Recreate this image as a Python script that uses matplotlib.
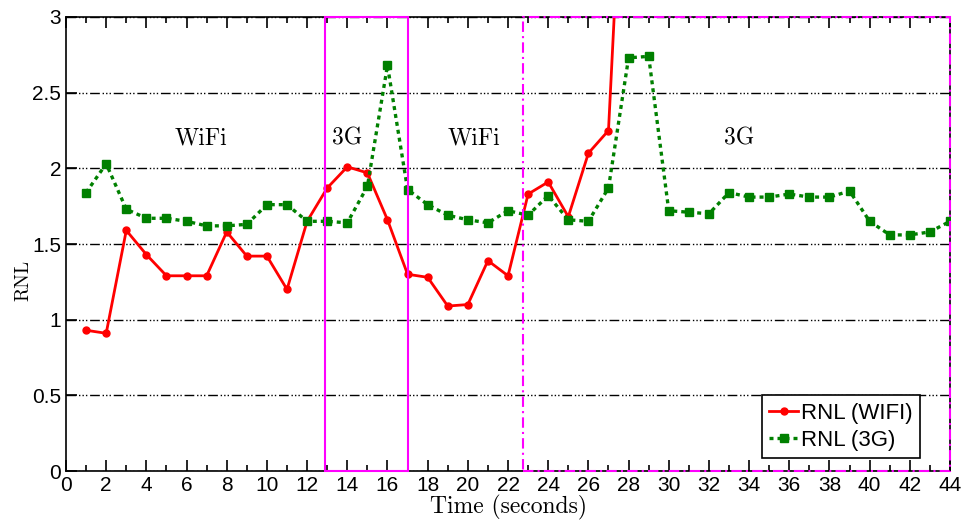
import matplotlib
matplotlib.use("Agg")
import matplotlib.pyplot as plt
from matplotlib.patches import Rectangle
from matplotlib.ticker import MultipleLocator

# data
t_wifi = list(range(1, 29))
rnl_wifi = [0.93, 0.91, 1.59, 1.43, 1.29, 1.29, 1.29, 1.58, 1.42, 1.42,
            1.20, 1.65, 1.87, 2.01, 1.97, 1.66, 1.30, 1.28, 1.09, 1.10,
            1.39, 1.29, 1.83, 1.91, 1.68, 2.10, 2.25, 4.90]
t_3g = list(range(1, 45))
rnl_3g = [1.84, 2.03, 1.73, 1.67, 1.67, 1.65, 1.62, 1.62, 1.63, 1.76,
          1.76, 1.65, 1.65, 1.64, 1.88, 2.68, 1.86, 1.76, 1.69, 1.66,
          1.64, 1.72, 1.69, 1.82, 1.66, 1.65, 1.87, 2.73, 2.74, 1.72,
          1.71, 1.70, 1.84, 1.81, 1.81, 1.83, 1.81, 1.81, 1.85, 1.65,
          1.56, 1.56, 1.58, 1.65]
phase_labels = ["WiFi", "3G", "WiFi", "3G"]
phase_x = [6.7, 14.0, 20.3, 33.5]
box_solid = (12.9, 17.0)
box_dashed = (22.75, 44.0)

fig = plt.figure(figsize=(9.65, 5.23), dpi=100)
ax = fig.add_axes([0.0684, 0.0994, 0.9161, 0.8681])

ax.set_xlim(0, 44)
ax.set_ylim(0, 3)

ax.yaxis.grid(True, color="black", linestyle=(0, (7, 2, 1, 1.5, 1, 1.5, 1, 2)), linewidth=1.0)
ax.set_axisbelow(True)

ax.plot(t_wifi, rnl_wifi, color="red", linewidth=2, marker="o", markersize=5,
        label="RNL (WIFI)", clip_on=True, zorder=3)
ax.plot(t_3g, rnl_3g, color="#008000", linewidth=2.4, linestyle=(0, (1.2, 1.2)),
        marker="s", markersize=6, label="RNL (3G)", zorder=3)

ax.add_patch(Rectangle((box_solid[0], 0), box_solid[1] - box_solid[0], 3,
                       fill=False, edgecolor="magenta", linewidth=1.5, zorder=4, clip_on=False))
ax.add_patch(Rectangle((box_dashed[0], 0), box_dashed[1] - box_dashed[0], 3,
                       fill=False, edgecolor="magenta", linewidth=1.5,
                       linestyle=(0, (5, 2, 1, 2)), zorder=4, clip_on=False))

for lab, x in zip(phase_labels, phase_x):
    ax.text(x, 2.2, lab, fontsize=17, family="cmr10", ha="center", va="center")

ax.xaxis.set_major_locator(MultipleLocator(2))
ax.xaxis.set_minor_locator(MultipleLocator(1))
ax.yaxis.set_major_locator(MultipleLocator(0.5))
ax.tick_params(axis="both", which="both", direction="in", top=True, right=False)
ax.tick_params(axis="both", which="major", length=8, labelsize=15, width=1.2)
ax.tick_params(axis="x", which="minor", length=4, width=1.2)
for lbl in ax.get_xticklabels() + ax.get_yticklabels():
    lbl.set_family("Liberation Sans")
ax.yaxis.set_major_formatter(matplotlib.ticker.FuncFormatter(lambda v, p: f"{v:g}"))

for s in ax.spines.values():
    s.set_linewidth(1.2)

ax.set_xlabel("Time (seconds)", fontsize=17, family="cmr10", labelpad=0)
ax.set_ylabel("RNL", fontsize=14, family="cmr10")
ax.yaxis.set_label_coords(-0.038, 0.42)

leg = ax.legend(loc="lower right", bbox_to_anchor=(0.966, 0.028),
                prop={"family": "Liberation Sans", "size": 16}, handlelength=1.3,
                handletextpad=0.1, borderpad=0.35, labelspacing=0.25,
                fancybox=False, framealpha=1, edgecolor="black", borderaxespad=0)
leg.get_frame().set_linewidth(1.2)

fig.savefig("out.png", dpi=100)
